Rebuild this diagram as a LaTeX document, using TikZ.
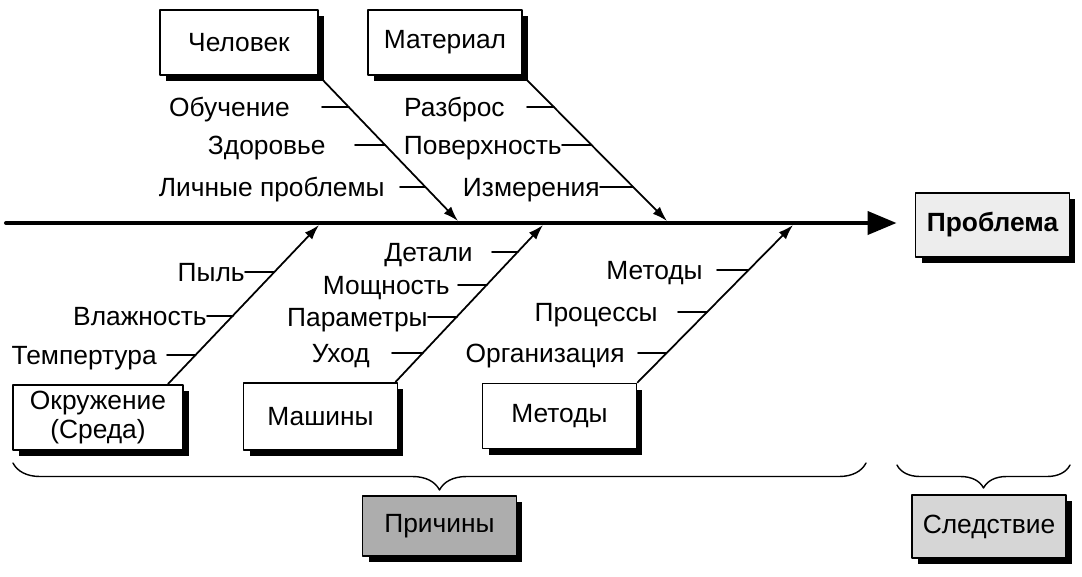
\documentclass[tikz,border=0pt]{standalone}
\usepackage{fontspec}
\setmainfont{Liberation Sans}
\usetikzlibrary{arrows.meta, shadows, decorations.pathreplacing, calc}

\definecolor{probgray}{gray}{0.93}
\definecolor{causegray}{gray}{0.68}
\definecolor{effgray}{gray}{0.84}

\tikzset{
  box/.style={draw, line width=1.1pt, fill=white, minimum width=3.08cm, minimum height=1.3cm,
    inner sep=2pt, align=center, font=\fontsize{15}{17}\selectfont,
    drop shadow={opacity=1, fill=black, shadow xshift=0.12cm, shadow yshift=-0.12cm}},
  lbl/.style={anchor=mid east, inner sep=0pt, yshift=-2.5pt, font=\fontsize{15}{17}\selectfont},
  spine/.style={line width=2.3pt, -{Triangle[length=0.58cm,width=0.46cm]}},
  branch/.style={line width=1pt, -{Latex[length=0.3cm,width=0.2cm]}},
  tick/.style={line width=1pt},
  brace/.style={line width=0.8pt, decorate, decoration={brace, mirror, amplitude=#1}}
}

\begin{document}
\begin{tikzpicture}[x=0.02cm, y=-0.02cm, line cap=round, line join=round]

\useasboundingbox (0,0) rectangle (1082,576);

% Boxes
\node[box, minimum width=3.16cm] (chel) at (239,42.5) {Человек};
\node[box] (mat) at (445,42.5) {Материал};
\node[box, fill=probgray, minimum height=1.28cm, font=\fontsize{15}{17}\selectfont\bfseries] (prob) at (992.5,225) {Проблема};
\node[box, minimum width=3.4cm] (okr) at (98,417.5) {Окружение\\(Среда)};
\node[box, minimum height=1.34cm] (mash) at (320.5,416.5) {Машины};
\node[box] (met) at (559.5,416) {Методы};
\node[box, fill=causegray, minimum height=1.2cm] (prich) at (439.5,526) {Причины};
\node[box, fill=effgray, minimum height=1.26cm] (sled) at (989,526.5) {Следствие};

% Spine
\coordinate (tail) at (6,223);
\draw[spine, shorten >=0.36cm] (tail) -- (tail -| prob.west);

% Branches
\coordinate (hChel) at (458,221);
\coordinate (hMat) at (667,221);
\coordinate (hOkr) at (319,225);
\coordinate (hMash) at (543,225);
\coordinate (hMet) at (793,225);
\draw[branch] (chel.south east) -- (hChel);
\draw[branch] (mat.south east) -- (hMat);
\draw[branch] ($(okr.north east)+(-16,0)$) -- (hOkr);
\draw[branch] ($(mash.north east)+(-3,0)$) -- (hMash);
\draw[branch] (met.north east) -- (hMet);

% Человек
\node[lbl] (obuch) at (290,107) {Обучение};
\node[lbl] (zdor) at (326,145) {Здоровье};
\node[lbl] (lichn) at (385,187) {Личные проблемы};
\draw[tick] (322,107) -- (349,107);
\draw[tick] (355,145) -- (385,145);
\draw[tick] (400,187) -- (425,187);

% Материал
\node[lbl] (razbr) at (505,107) {Разброс};
\node[lbl] (poverh) at (562,145) {Поверхность};
\node[lbl] (izmer) at (600,187) {Измерения};
\draw[tick] (527,107) -- (554,107);
\draw[tick] (562,145) -- (591,145);
\draw[tick] (600,187) -- (633,187);

% Окружение
\node[lbl] (pyl) at (245,272) {Пыль};
\node[lbl] (vlazh) at (207,316) {Влажность};
\node[lbl] (temp) at (157,355) {Темпертура};
\draw[tick] (245,272) -- (274,272);
\draw[tick] (207,316) -- (233,316);
\draw[tick] (167,355) -- (195,355);

% Машины
\node[lbl] (detal) at (473,252) {Детали};
\node[lbl] (moshn) at (450,285) {Мощность};
\node[lbl] (param) at (428,317) {Параметры};
\node[lbl] (uhod) at (370,353) {Уход};
\draw[tick] (492,252) -- (518,252);
\draw[tick] (458,285) -- (487,285);
\draw[tick] (428,317) -- (457,317);
\draw[tick] (392,353) -- (423,353);

% Методы
\node[lbl] (metod) at (703,270) {Методы};
\node[lbl] (proc) at (658,312) {Процессы};
\node[lbl] (org) at (625,353) {Организация};
\draw[tick] (717,270) -- (748,270);
\draw[tick] (678,312) -- (707,312);
\draw[tick] (638,353) -- (666,353);

% Braces
\coordinate (bc1) at (13,463);
\coordinate (bc2) at (866,463);
\coordinate (be1) at (897,465);
\coordinate (be2) at (1070,465);
\draw[brace=0.54cm] (bc1) -- (bc2);
\draw[brace=0.46cm] (be1) -- (be2);

\end{tikzpicture}
\end{document}
